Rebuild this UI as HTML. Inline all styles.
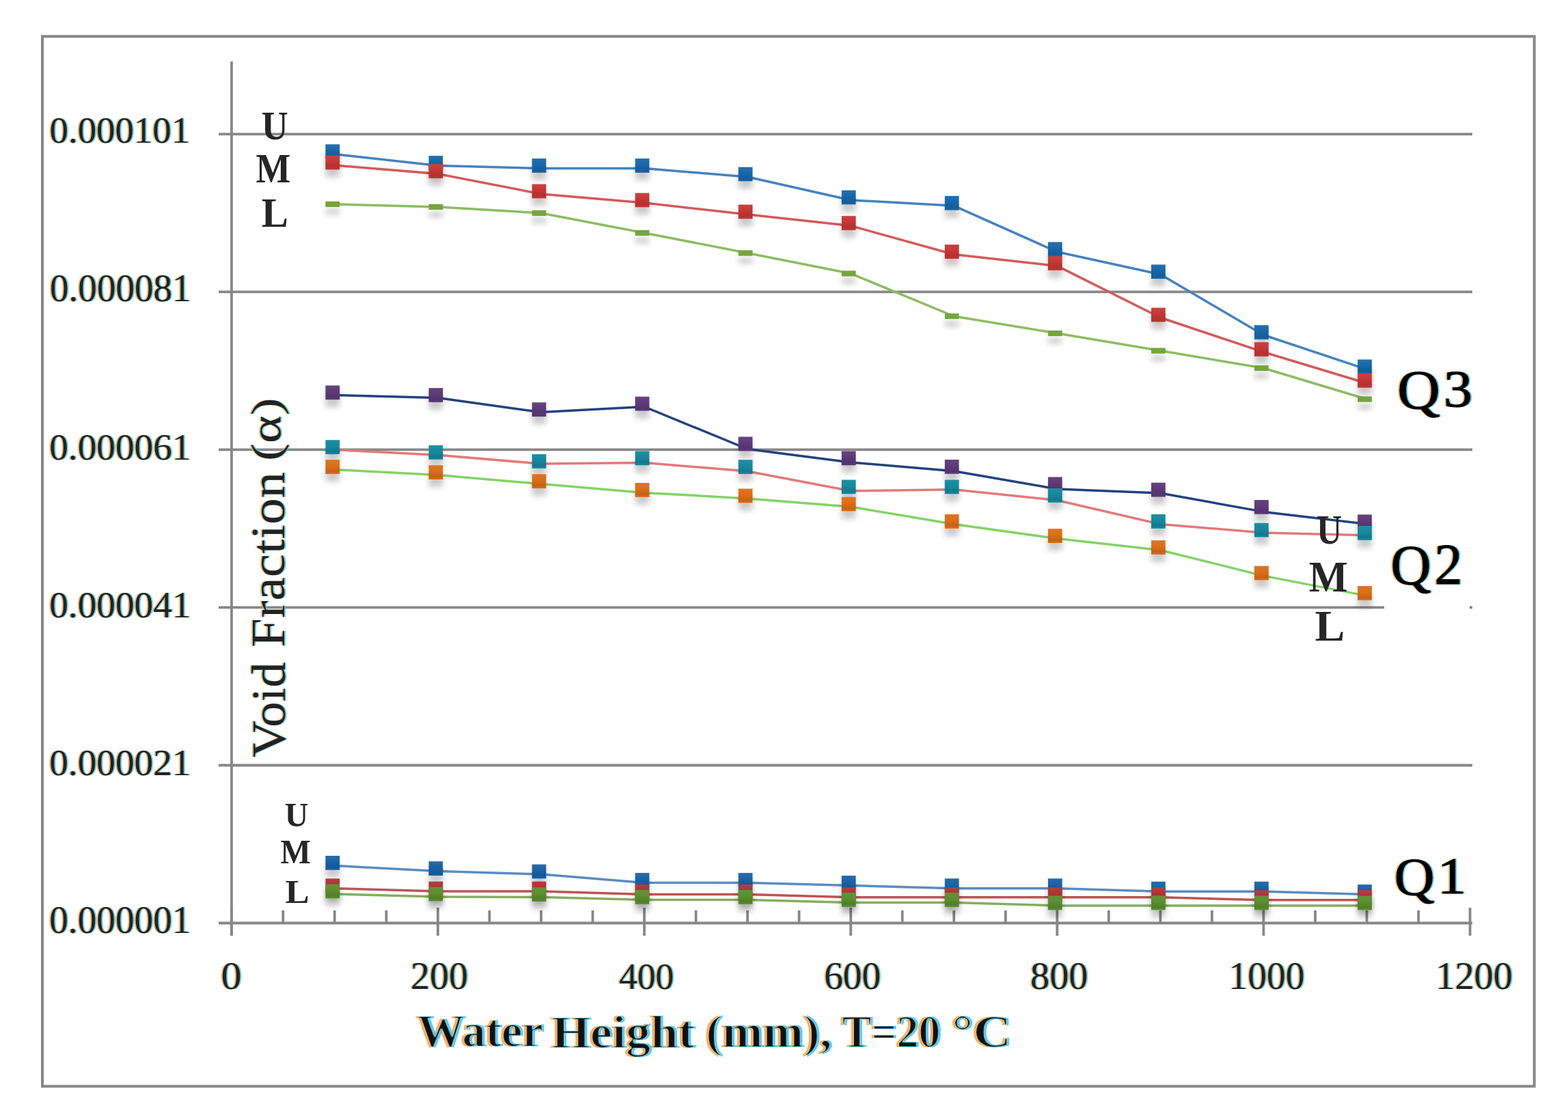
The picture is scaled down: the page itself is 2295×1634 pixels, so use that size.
<!DOCTYPE html><html><head><meta charset="utf-8"><title>Void Fraction chart</title><style>
html,body{margin:0;padding:0;background:#fff;}svg{display:block;}
text{font-family:"Liberation Serif","DejaVu Serif",serif;}
</style></head><body>
<svg width="2295" height="1634" viewBox="0 0 2295 1634">
<defs><filter id="sh" x="-60%" y="-60%" width="220%" height="260%"><feGaussianBlur in="SourceAlpha" stdDeviation="4.5"/><feOffset dx="0" dy="11" result="b"/><feComponentTransfer><feFuncA type="linear" slope="0.21"/></feComponentTransfer><feMerge><feMergeNode/><feMergeNode in="SourceGraphic"/></feMerge></filter><filter id="ct" x="-5%" y="-5%" width="110%" height="110%" color-interpolation-filters="sRGB"><feOffset in="SourceAlpha" dx="-2.4" dy="0" result="l"/><feFlood flood-color="#f3a545" flood-opacity="0.8"/><feComposite in2="l" operator="in" result="lo"/><feOffset in="SourceAlpha" dx="2.4" dy="0" result="r"/><feFlood flood-color="#3cc4f2" flood-opacity="0.8"/><feComposite in2="r" operator="in" result="ro"/><feOffset in="SourceGraphic" dx="0" dy="0" result="core"/><feMerge><feMergeNode in="lo"/><feMergeNode in="ro"/><feMergeNode in="core"/></feMerge></filter><filter id="ctb" x="-5%" y="-5%" width="110%" height="110%" color-interpolation-filters="sRGB"><feOffset in="SourceAlpha" dx="-2.6" dy="0" result="l"/><feFlood flood-color="#f3a545" flood-opacity="0.85"/><feComposite in2="l" operator="in" result="lo"/><feOffset in="SourceAlpha" dx="2.6" dy="0" result="r"/><feFlood flood-color="#3cc4f2" flood-opacity="0.85"/><feComposite in2="r" operator="in" result="ro"/><feMorphology in="SourceGraphic" operator="erode" radius="0.6" result="core"/><feMerge><feMergeNode in="lo"/><feMergeNode in="ro"/><feMergeNode in="core"/></feMerge></filter></defs>
<defs><linearGradient id="g1a62a6" x1="0" y1="0" x2="0" y2="1"><stop offset="0" stop-color="#276bab"/><stop offset="0.45" stop-color="#1a62a6"/><stop offset="0.8" stop-color="#175895"/><stop offset="1" stop-color="#1a62a6"/></linearGradient><linearGradient id="gb03232" x1="0" y1="0" x2="0" y2="1"><stop offset="0" stop-color="#b43e3e"/><stop offset="0.45" stop-color="#b03232"/><stop offset="0.8" stop-color="#9e2d2d"/><stop offset="1" stop-color="#b03232"/></linearGradient><linearGradient id="g5b8e2e" x1="0" y1="0" x2="0" y2="1"><stop offset="0" stop-color="#64943a"/><stop offset="0.45" stop-color="#5b8e2e"/><stop offset="0.8" stop-color="#517f29"/><stop offset="1" stop-color="#5b8e2e"/></linearGradient><linearGradient id="g5e3a78" x1="0" y1="0" x2="0" y2="1"><stop offset="0" stop-color="#674580"/><stop offset="0.45" stop-color="#5e3a78"/><stop offset="0.8" stop-color="#54346c"/><stop offset="1" stop-color="#5e3a78"/></linearGradient><linearGradient id="g13889e" x1="0" y1="0" x2="0" y2="1"><stop offset="0" stop-color="#218fa3"/><stop offset="0.45" stop-color="#13889e"/><stop offset="0.8" stop-color="#117a8e"/><stop offset="1" stop-color="#13889e"/></linearGradient><linearGradient id="gdc6d16" x1="0" y1="0" x2="0" y2="1"><stop offset="0" stop-color="#de7523"/><stop offset="0.45" stop-color="#dc6d16"/><stop offset="0.8" stop-color="#c66213"/><stop offset="1" stop-color="#dc6d16"/></linearGradient><linearGradient id="g1767aa" x1="0" y1="0" x2="0" y2="1"><stop offset="0" stop-color="#2470af"/><stop offset="0.45" stop-color="#1767aa"/><stop offset="0.8" stop-color="#145c99"/><stop offset="1" stop-color="#1767aa"/></linearGradient><linearGradient id="gc63634" x1="0" y1="0" x2="0" y2="1"><stop offset="0" stop-color="#c94240"/><stop offset="0.45" stop-color="#c63634"/><stop offset="0.8" stop-color="#b2302e"/><stop offset="1" stop-color="#c63634"/></linearGradient><linearGradient id="g74a63e" x1="0" y1="0" x2="0" y2="1"><stop offset="0" stop-color="#7cab49"/><stop offset="0.45" stop-color="#74a63e"/><stop offset="0.8" stop-color="#689537"/><stop offset="1" stop-color="#74a63e"/></linearGradient></defs>
<rect x="0" y="0" width="2295" height="1634" fill="#fff"/>
<rect x="62" y="53.3" width="2183.7" height="1537.2" fill="none" stroke="#878787" stroke-width="4"/>
<line x1="320" y1="196.3" x2="2155" y2="196.3" stroke="#878787" stroke-width="3.8"/>
<line x1="320" y1="427.3" x2="2155" y2="427.3" stroke="#878787" stroke-width="3.8"/>
<line x1="320" y1="658.4" x2="2155" y2="658.4" stroke="#878787" stroke-width="3.8"/>
<line x1="320" y1="889.4" x2="2155" y2="889.4" stroke="#878787" stroke-width="3.8"/>
<line x1="320" y1="1120.5" x2="2155" y2="1120.5" stroke="#878787" stroke-width="3.8"/>
<line x1="320" y1="1351.5" x2="2155" y2="1351.5" stroke="#878787" stroke-width="3.8"/>
<line x1="339" y1="90" x2="339" y2="1370" stroke="#878787" stroke-width="3.8"/>
<line x1="338.8" y1="1329" x2="338.8" y2="1370" stroke="#878787" stroke-width="3.8"/>
<line x1="414.3" y1="1333" x2="414.3" y2="1351" stroke="#878787" stroke-width="3.8"/>
<line x1="489.8" y1="1333" x2="489.8" y2="1351" stroke="#878787" stroke-width="3.8"/>
<line x1="565.4" y1="1333" x2="565.4" y2="1351" stroke="#878787" stroke-width="3.8"/>
<line x1="640.9" y1="1329" x2="640.9" y2="1370" stroke="#878787" stroke-width="3.8"/>
<line x1="716.4" y1="1333" x2="716.4" y2="1351" stroke="#878787" stroke-width="3.8"/>
<line x1="792.0" y1="1333" x2="792.0" y2="1351" stroke="#878787" stroke-width="3.8"/>
<line x1="867.5" y1="1333" x2="867.5" y2="1351" stroke="#878787" stroke-width="3.8"/>
<line x1="943.0" y1="1329" x2="943.0" y2="1370" stroke="#878787" stroke-width="3.8"/>
<line x1="1018.6" y1="1333" x2="1018.6" y2="1351" stroke="#878787" stroke-width="3.8"/>
<line x1="1094.1" y1="1333" x2="1094.1" y2="1351" stroke="#878787" stroke-width="3.8"/>
<line x1="1169.6" y1="1333" x2="1169.6" y2="1351" stroke="#878787" stroke-width="3.8"/>
<line x1="1245.2" y1="1329" x2="1245.2" y2="1370" stroke="#878787" stroke-width="3.8"/>
<line x1="1320.7" y1="1333" x2="1320.7" y2="1351" stroke="#878787" stroke-width="3.8"/>
<line x1="1396.2" y1="1333" x2="1396.2" y2="1351" stroke="#878787" stroke-width="3.8"/>
<line x1="1471.8" y1="1333" x2="1471.8" y2="1351" stroke="#878787" stroke-width="3.8"/>
<line x1="1547.3" y1="1329" x2="1547.3" y2="1370" stroke="#878787" stroke-width="3.8"/>
<line x1="1622.8" y1="1333" x2="1622.8" y2="1351" stroke="#878787" stroke-width="3.8"/>
<line x1="1698.4" y1="1333" x2="1698.4" y2="1351" stroke="#878787" stroke-width="3.8"/>
<line x1="1773.9" y1="1333" x2="1773.9" y2="1351" stroke="#878787" stroke-width="3.8"/>
<line x1="1849.4" y1="1329" x2="1849.4" y2="1370" stroke="#878787" stroke-width="3.8"/>
<line x1="1925.0" y1="1333" x2="1925.0" y2="1351" stroke="#878787" stroke-width="3.8"/>
<line x1="2000.5" y1="1333" x2="2000.5" y2="1351" stroke="#878787" stroke-width="3.8"/>
<line x1="2076.1" y1="1333" x2="2076.1" y2="1351" stroke="#878787" stroke-width="3.8"/>
<line x1="2151.6" y1="1329" x2="2151.6" y2="1370" stroke="#878787" stroke-width="3.8"/>
<rect x="2026" y="884" width="125" height="10" fill="#fff"/>
<polyline points="489.8,1267.4 640.9,1275.6 792.0,1280.0 943.0,1292.5 1094.1,1292.5 1245.2,1296.5 1396.2,1300.8 1547.3,1300.8 1698.4,1305.2 1849.4,1305.2 2000.5,1309.5" fill="none" stroke="#5a8dc0" stroke-width="3.5" stroke-linejoin="round"/>
<polyline points="489.8,1300.8 640.9,1305.0 792.0,1305.0 943.0,1309.5 1094.1,1309.5 1245.2,1313.8 1396.2,1313.8 1547.3,1313.8 1698.4,1313.8 1849.4,1317.8 2000.5,1317.8" fill="none" stroke="#bd5454" stroke-width="3.5" stroke-linejoin="round"/>
<polyline points="489.8,1309.0 640.9,1313.1 792.0,1313.6 943.0,1317.5 1094.1,1317.5 1245.2,1321.5 1396.2,1321.5 1547.3,1326.0 1698.4,1326.0 1849.4,1326.0 2000.5,1326.0" fill="none" stroke="#86ad5e" stroke-width="3.5" stroke-linejoin="round"/>
<polyline points="489.8,578.5 640.9,582.5 792.0,603.6 943.0,595.5 1094.1,657.5 1245.2,677.0 1396.2,689.7 1547.3,716.0 1698.4,722.0 1849.4,749.4 2000.5,767.3" fill="none" stroke="#23437f" stroke-width="3.5" stroke-linejoin="round"/>
<polyline points="489.8,658.5 640.9,666.2 792.0,679.0 943.0,677.5 1094.1,690.0 1245.2,718.8 1396.2,716.8 1547.3,732.5 1698.4,767.5 1849.4,780.0 2000.5,783.8" fill="none" stroke="#e37a7a" stroke-width="3.5" stroke-linejoin="round"/>
<polyline points="489.8,687.6 640.9,695.6 792.0,708.6 943.0,721.4 1094.1,729.9 1245.2,742.1 1396.2,767.4 1547.3,788.6 1698.4,805.5 1849.4,843.1 2000.5,872.4" fill="none" stroke="#82d466" stroke-width="3.5" stroke-linejoin="round"/>
<polyline points="489.8,225.8 640.9,242.5 792.0,246.5 943.0,246.5 1094.1,259.0 1245.2,293.0 1396.2,301.3 1547.3,368.8 1698.4,401.8 1849.4,490.5 2000.5,540.8" fill="none" stroke="#4682bf" stroke-width="3.5" stroke-linejoin="round"/>
<polyline points="489.8,242.0 640.9,254.6 792.0,284.0 943.0,297.0 1094.1,314.0 1245.2,330.6 1396.2,372.5 1547.3,389.4 1698.4,465.0 1849.4,515.5 2000.5,561.2" fill="none" stroke="#d45a5a" stroke-width="3.5" stroke-linejoin="round"/>
<polyline points="489.8,299.0 640.9,303.0 792.0,312.0 943.0,341.0 1094.1,370.5 1245.2,400.5 1396.2,463.0 1547.3,488.0 1698.4,513.5 1849.4,539.0 2000.5,584.5" fill="none" stroke="#8dbc62" stroke-width="3.5" stroke-linejoin="round"/>
<g filter="url(#sh)">
<rect x="476.4" y="1253.0" width="20.8" height="20.8" fill="url(#g1a62a6)"/>
<rect x="627.5" y="1261.2" width="20.8" height="20.8" fill="url(#g1a62a6)"/>
<rect x="778.6" y="1265.6" width="20.8" height="20.8" fill="url(#g1a62a6)"/>
<rect x="929.6" y="1278.1" width="20.8" height="20.8" fill="url(#g1a62a6)"/>
<rect x="1080.7" y="1278.1" width="20.8" height="20.8" fill="url(#g1a62a6)"/>
<rect x="1231.8" y="1282.1" width="20.8" height="20.8" fill="url(#g1a62a6)"/>
<rect x="1382.8" y="1286.3" width="20.8" height="20.8" fill="url(#g1a62a6)"/>
<rect x="1533.9" y="1286.3" width="20.8" height="20.8" fill="url(#g1a62a6)"/>
<rect x="1685.0" y="1290.8" width="20.8" height="20.8" fill="url(#g1a62a6)"/>
<rect x="1836.0" y="1290.8" width="20.8" height="20.8" fill="url(#g1a62a6)"/>
<rect x="1987.1" y="1295.1" width="20.8" height="20.8" fill="url(#g1a62a6)"/>
</g>
<g filter="url(#sh)">
<rect x="476.4" y="1286.3" width="20.8" height="20.8" fill="url(#gb03232)"/>
<rect x="627.5" y="1290.6" width="20.8" height="20.8" fill="url(#gb03232)"/>
<rect x="778.6" y="1290.6" width="20.8" height="20.8" fill="url(#gb03232)"/>
<rect x="929.6" y="1295.1" width="20.8" height="20.8" fill="url(#gb03232)"/>
<rect x="1080.7" y="1295.1" width="20.8" height="20.8" fill="url(#gb03232)"/>
<rect x="1231.8" y="1299.3" width="20.8" height="20.8" fill="url(#gb03232)"/>
<rect x="1382.8" y="1299.3" width="20.8" height="20.8" fill="url(#gb03232)"/>
<rect x="1533.9" y="1299.3" width="20.8" height="20.8" fill="url(#gb03232)"/>
<rect x="1685.0" y="1299.3" width="20.8" height="20.8" fill="url(#gb03232)"/>
<rect x="1836.0" y="1303.3" width="20.8" height="20.8" fill="url(#gb03232)"/>
<rect x="1987.1" y="1303.3" width="20.8" height="20.8" fill="url(#gb03232)"/>
</g>
<g filter="url(#sh)">
<rect x="476.4" y="1294.6" width="20.8" height="20.8" fill="url(#g5b8e2e)"/>
<rect x="627.5" y="1298.7" width="20.8" height="20.8" fill="url(#g5b8e2e)"/>
<rect x="778.6" y="1299.2" width="20.8" height="20.8" fill="url(#g5b8e2e)"/>
<rect x="929.6" y="1303.1" width="20.8" height="20.8" fill="url(#g5b8e2e)"/>
<rect x="1080.7" y="1303.1" width="20.8" height="20.8" fill="url(#g5b8e2e)"/>
<rect x="1231.8" y="1307.1" width="20.8" height="20.8" fill="url(#g5b8e2e)"/>
<rect x="1382.8" y="1307.1" width="20.8" height="20.8" fill="url(#g5b8e2e)"/>
<rect x="1533.9" y="1311.6" width="20.8" height="20.8" fill="url(#g5b8e2e)"/>
<rect x="1685.0" y="1311.6" width="20.8" height="20.8" fill="url(#g5b8e2e)"/>
<rect x="1836.0" y="1311.6" width="20.8" height="20.8" fill="url(#g5b8e2e)"/>
<rect x="1987.1" y="1311.6" width="20.8" height="20.8" fill="url(#g5b8e2e)"/>
</g>
<g filter="url(#sh)">
<rect x="476.4" y="564.4" width="20.8" height="20.8" fill="url(#g5e3a78)"/>
<rect x="627.5" y="568.1" width="20.8" height="20.8" fill="url(#g5e3a78)"/>
<rect x="778.6" y="589.2" width="20.8" height="20.8" fill="url(#g5e3a78)"/>
<rect x="929.6" y="580.7" width="20.8" height="20.8" fill="url(#g5e3a78)"/>
<rect x="1080.7" y="639.5" width="20.8" height="20.8" fill="url(#g5e3a78)"/>
<rect x="1231.8" y="660.5" width="20.8" height="20.8" fill="url(#g5e3a78)"/>
<rect x="1382.8" y="673.0" width="20.8" height="20.8" fill="url(#g5e3a78)"/>
<rect x="1533.9" y="698.4" width="20.8" height="20.8" fill="url(#g5e3a78)"/>
<rect x="1685.0" y="706.7" width="20.8" height="20.8" fill="url(#g5e3a78)"/>
<rect x="1836.0" y="732.0" width="20.8" height="20.8" fill="url(#g5e3a78)"/>
<rect x="1987.1" y="753.4" width="20.8" height="20.8" fill="url(#g5e3a78)"/>
</g>
<g filter="url(#sh)">
<rect x="476.4" y="644.2" width="20.8" height="20.8" fill="url(#g13889e)"/>
<rect x="627.5" y="652.0" width="20.8" height="20.8" fill="url(#g13889e)"/>
<rect x="778.6" y="665.0" width="20.8" height="20.8" fill="url(#g13889e)"/>
<rect x="929.6" y="660.5" width="20.8" height="20.8" fill="url(#g13889e)"/>
<rect x="1080.7" y="673.2" width="20.8" height="20.8" fill="url(#g13889e)"/>
<rect x="1231.8" y="702.5" width="20.8" height="20.8" fill="url(#g13889e)"/>
<rect x="1382.8" y="702.5" width="20.8" height="20.8" fill="url(#g13889e)"/>
<rect x="1533.9" y="715.0" width="20.8" height="20.8" fill="url(#g13889e)"/>
<rect x="1685.0" y="753.0" width="20.8" height="20.8" fill="url(#g13889e)"/>
<rect x="1836.0" y="765.7" width="20.8" height="20.8" fill="url(#g13889e)"/>
<rect x="1987.1" y="770.0" width="20.8" height="20.8" fill="url(#g13889e)"/>
</g>
<g filter="url(#sh)">
<rect x="476.4" y="673.2" width="20.8" height="20.8" fill="url(#gdc6d16)"/>
<rect x="627.5" y="681.2" width="20.8" height="20.8" fill="url(#gdc6d16)"/>
<rect x="778.6" y="694.2" width="20.8" height="20.8" fill="url(#gdc6d16)"/>
<rect x="929.6" y="707.0" width="20.8" height="20.8" fill="url(#gdc6d16)"/>
<rect x="1080.7" y="715.5" width="20.8" height="20.8" fill="url(#gdc6d16)"/>
<rect x="1231.8" y="727.7" width="20.8" height="20.8" fill="url(#gdc6d16)"/>
<rect x="1382.8" y="753.0" width="20.8" height="20.8" fill="url(#gdc6d16)"/>
<rect x="1533.9" y="774.2" width="20.8" height="20.8" fill="url(#gdc6d16)"/>
<rect x="1685.0" y="791.1" width="20.8" height="20.8" fill="url(#gdc6d16)"/>
<rect x="1836.0" y="828.7" width="20.8" height="20.8" fill="url(#gdc6d16)"/>
<rect x="1987.1" y="858.0" width="20.8" height="20.8" fill="url(#gdc6d16)"/>
</g>
<g filter="url(#sh)">
<rect x="476.4" y="211.3" width="20.8" height="20.8" fill="url(#g1767aa)"/>
<rect x="627.5" y="228.1" width="20.8" height="20.8" fill="url(#g1767aa)"/>
<rect x="778.6" y="232.1" width="20.8" height="20.8" fill="url(#g1767aa)"/>
<rect x="929.6" y="232.1" width="20.8" height="20.8" fill="url(#g1767aa)"/>
<rect x="1080.7" y="244.6" width="20.8" height="20.8" fill="url(#g1767aa)"/>
<rect x="1231.8" y="278.6" width="20.8" height="20.8" fill="url(#g1767aa)"/>
<rect x="1382.8" y="286.9" width="20.8" height="20.8" fill="url(#g1767aa)"/>
<rect x="1533.9" y="354.4" width="20.8" height="20.8" fill="url(#g1767aa)"/>
<rect x="1685.0" y="387.4" width="20.8" height="20.8" fill="url(#g1767aa)"/>
<rect x="1836.0" y="476.1" width="20.8" height="20.8" fill="url(#g1767aa)"/>
<rect x="1987.1" y="526.4" width="20.8" height="20.8" fill="url(#g1767aa)"/>
</g>
<g filter="url(#sh)">
<rect x="476.4" y="227.6" width="20.8" height="20.8" fill="url(#gc63634)"/>
<rect x="627.5" y="240.2" width="20.8" height="20.8" fill="url(#gc63634)"/>
<rect x="778.6" y="269.6" width="20.8" height="20.8" fill="url(#gc63634)"/>
<rect x="929.6" y="282.6" width="20.8" height="20.8" fill="url(#gc63634)"/>
<rect x="1080.7" y="299.6" width="20.8" height="20.8" fill="url(#gc63634)"/>
<rect x="1231.8" y="316.2" width="20.8" height="20.8" fill="url(#gc63634)"/>
<rect x="1382.8" y="358.1" width="20.8" height="20.8" fill="url(#gc63634)"/>
<rect x="1533.9" y="375.0" width="20.8" height="20.8" fill="url(#gc63634)"/>
<rect x="1685.0" y="450.6" width="20.8" height="20.8" fill="url(#gc63634)"/>
<rect x="1836.0" y="501.1" width="20.8" height="20.8" fill="url(#gc63634)"/>
<rect x="1987.1" y="546.9" width="20.8" height="20.8" fill="url(#gc63634)"/>
</g>
<g filter="url(#sh)">
<rect x="476.4" y="294.9" width="20.8" height="8.2" fill="#74a63e"/>
<rect x="627.5" y="298.9" width="20.8" height="8.2" fill="#74a63e"/>
<rect x="778.6" y="307.9" width="20.8" height="8.2" fill="#74a63e"/>
<rect x="929.6" y="336.9" width="20.8" height="8.2" fill="#74a63e"/>
<rect x="1080.7" y="366.4" width="20.8" height="8.2" fill="#74a63e"/>
<rect x="1231.8" y="396.4" width="20.8" height="8.2" fill="#74a63e"/>
<rect x="1382.8" y="458.9" width="20.8" height="8.2" fill="#74a63e"/>
<rect x="1533.9" y="483.9" width="20.8" height="8.2" fill="#74a63e"/>
<rect x="1685.0" y="509.4" width="20.8" height="8.2" fill="#74a63e"/>
<rect x="1836.0" y="534.9" width="20.8" height="8.2" fill="#74a63e"/>
<rect x="1987.1" y="580.4" width="20.8" height="8.2" fill="#74a63e"/>
</g>
<g filter="url(#ct)">
<text id="y101" x="72.55" y="209.30" font-size="55.47" fill="#222" textLength="205.53" lengthAdjust="spacingAndGlyphs">0.000101</text>
<text id="y81" x="73.05" y="440.59" font-size="56.27" fill="#222" textLength="206.55" lengthAdjust="spacingAndGlyphs">0.000081</text>
<text id="y61" x="72.20" y="673.48" font-size="55.94" fill="#222" textLength="207.22" lengthAdjust="spacingAndGlyphs">0.000061</text>
<text id="y41" x="72.20" y="904.02" font-size="55.94" fill="#222" textLength="207.22" lengthAdjust="spacingAndGlyphs">0.000041</text>
<text id="y21" x="72.20" y="1135.31" font-size="55.39" fill="#222" textLength="207.22" lengthAdjust="spacingAndGlyphs">0.000021</text>
<text id="y01" x="72.20" y="1366.00" font-size="57.90" fill="#222" textLength="207.22" lengthAdjust="spacingAndGlyphs">0.000001</text>
<text id="x0" x="323.50" y="1448.00" font-size="56.93" fill="#222" textLength="30.10" lengthAdjust="spacingAndGlyphs">0</text>
<text id="x200" x="601.01" y="1448.00" font-size="56.93" fill="#222" textLength="83.84" lengthAdjust="spacingAndGlyphs">200</text>
<text id="x400" x="905.90" y="1448.00" font-size="55.50" fill="#222" textLength="80.45" lengthAdjust="spacingAndGlyphs">400</text>
<text id="x600" x="1206.17" y="1448.00" font-size="56.93" fill="#222" textLength="83.06" lengthAdjust="spacingAndGlyphs">600</text>
<text id="x800" x="1508.06" y="1448.00" font-size="56.93" fill="#222" textLength="84.37" lengthAdjust="spacingAndGlyphs">800</text>
<text id="x1000" x="1798.57" y="1448.00" font-size="56.93" fill="#222" textLength="110.82" lengthAdjust="spacingAndGlyphs">1000</text>
<text id="x1200" x="2101.34" y="1448.00" font-size="56.93" fill="#222" textLength="112.59" lengthAdjust="spacingAndGlyphs">1200</text>
<text id="yt1" transform="translate(417.25,1109.00) rotate(-90)" x="0" y="0" font-size="69.00" fill="#222" textLength="139.62" lengthAdjust="spacingAndGlyphs">Void</text>
<text id="yt2" transform="translate(416.25,948.00) rotate(-90)" x="0" y="0" font-size="69.00" fill="#222" textLength="257.04" lengthAdjust="spacingAndGlyphs">Fraction</text>
<text id="yt3" transform="translate(409.75,675.00) rotate(-90)" x="0" y="0" font-size="61.00" fill="#222" textLength="92.81" lengthAdjust="spacingAndGlyphs">(α)</text>
<text id="q3a" x="2045.25" y="598.17" font-size="80.25" fill="#000" stroke="#000" stroke-width="1.0" textLength="62.57" lengthAdjust="spacingAndGlyphs">Q</text>
<text id="q3b" x="2113.00" y="594.92" font-size="75.24" fill="#000" stroke="#000" stroke-width="1.0" textLength="42.08" lengthAdjust="spacingAndGlyphs">3</text>
<text id="q2a" x="2035.50" y="854.55" font-size="83.41" fill="#000" stroke="#000" stroke-width="1.0" textLength="59.07" lengthAdjust="spacingAndGlyphs">Q</text>
<text id="q2b" x="2099.38" y="855.30" font-size="83.65" fill="#000" stroke="#000" stroke-width="1.0" textLength="40.96" lengthAdjust="spacingAndGlyphs">2</text>
<text id="q1a" x="2040.88" y="1309.62" font-size="78.47" fill="#000" stroke="#000" stroke-width="1.0" textLength="58.82" lengthAdjust="spacingAndGlyphs">Q</text>
<text id="q1b" x="2104.00" y="1308.25" font-size="77.11" fill="#000" stroke="#000" stroke-width="1.0" textLength="41.98" lengthAdjust="spacingAndGlyphs">1</text>
</g>
<g filter="url(#ctb)">
<text id="xt1" x="610.85" y="1531.70" font-size="67.00" font-weight="bold" fill="#111" textLength="184.20" lengthAdjust="spacingAndGlyphs">Water</text>
<text id="xt2" x="807.50" y="1534.20" font-size="67.00" font-weight="bold" fill="#111" textLength="209.11" lengthAdjust="spacingAndGlyphs">Height</text>
<text id="xt3" x="1033.30" y="1532.50" font-size="67.00" font-weight="bold" fill="#111" textLength="184.25" lengthAdjust="spacingAndGlyphs">(mm),</text>
<text id="xt4" x="1232.55" y="1533.20" font-size="67.00" font-weight="bold" fill="#111" textLength="143.98" lengthAdjust="spacingAndGlyphs">T=20</text>
<text id="xt5" x="1393.25" y="1533.20" font-size="67.00" font-weight="bold" fill="#111" textLength="86.83" lengthAdjust="spacingAndGlyphs">°C</text>
</g>
<text id="u3" x="382.80" y="204.35" font-size="59.20" font-weight="bold" fill="#262626" textLength="38.97" lengthAdjust="spacingAndGlyphs">U</text>
<text id="m3" x="374.55" y="266.80" font-size="62.03" font-weight="bold" fill="#262626" textLength="50.75" lengthAdjust="spacingAndGlyphs">M</text>
<text id="l3" x="382.80" y="332.35" font-size="61.69" font-weight="bold" fill="#262626" textLength="39.17" lengthAdjust="spacingAndGlyphs">L</text>
<text id="u2" x="1926.93" y="796.38" font-size="61.22" font-weight="bold" fill="#262626" textLength="37.20" lengthAdjust="spacingAndGlyphs">U</text>
<text id="m2" x="1915.73" y="865.95" font-size="63.28" font-weight="bold" fill="#262626" textLength="57.02" lengthAdjust="spacingAndGlyphs">M</text>
<text id="l2" x="1924.48" y="937.88" font-size="62.52" font-weight="bold" fill="#262626" textLength="43.81" lengthAdjust="spacingAndGlyphs">L</text>
<text id="u1" x="416.75" y="1210.25" font-size="51.05" font-weight="bold" fill="#262626" textLength="34.52" lengthAdjust="spacingAndGlyphs">U</text>
<text id="m1" x="410.50" y="1264.38" font-size="51.61" font-weight="bold" fill="#262626" textLength="44.43" lengthAdjust="spacingAndGlyphs">M</text>
<text id="l1" x="417.50" y="1321.70" font-size="49.46" font-weight="bold" fill="#262626" textLength="35.17" lengthAdjust="spacingAndGlyphs">L</text>
</svg></body></html>
